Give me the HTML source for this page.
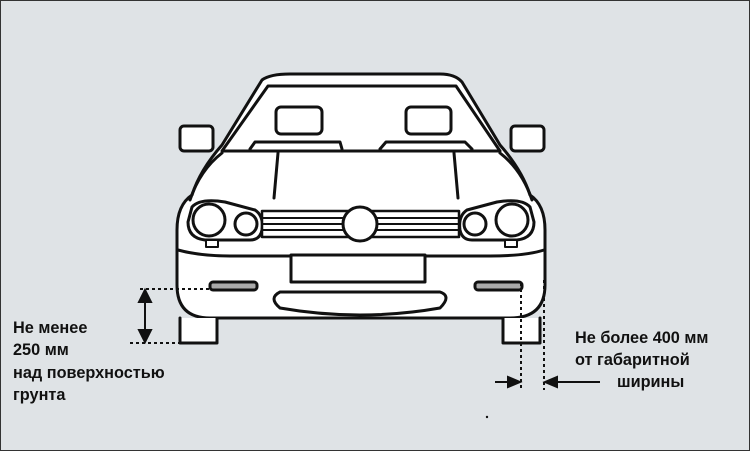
<!DOCTYPE html>
<html><head><meta charset="utf-8"><style>
html,body{margin:0;padding:0;background:#dfe3e6}
svg{display:block}
text{font-family:"Liberation Sans","DejaVu Sans",sans-serif;font-weight:bold;font-size:16.3px;fill:#111}
</style></head><body>
<svg width="750" height="451" viewBox="0 0 750 451" xmlns="http://www.w3.org/2000/svg">
<rect x="0.5" y="0.5" width="749" height="450" fill="#dfe3e6" stroke="#333" stroke-width="1"/>
<g fill="#fff" stroke="#111" stroke-width="3" stroke-linejoin="round" stroke-linecap="round">
<rect x="180" y="126" width="33" height="25" rx="4"/>
<rect x="511" y="126" width="33" height="25" rx="4"/>
<path d="M262 80 Q270 74 290 74 L440 74 Q455 74 462 82 L500 145 Q522 170 530 195 Q545 205 545 230 L545 285 Q545 318 510 318 L210 318 Q177 318 177 285 L177 230 Q177 205 192 195 Q200 170 222 145 Z"/>
<path d="M180 318 L180 343 L217 343 L217 318"/>
<path d="M503 318 L503 343 L540 343 L540 318"/>
<path d="M268 86 L456 86 L500 151 L222 151 Z" />
</g>
<g fill="none" stroke="#111" stroke-width="3" stroke-linecap="round" stroke-linejoin="round">
<rect x="276" y="107" width="46" height="27" rx="5" fill="#fff"/>
<rect x="406" y="107" width="45" height="27" rx="5" fill="#fff"/>
<path d="M250 149 L255 142 L340 142 L342 149"/>
<path d="M380 149 L386 142 L465 142 L472 149"/>
<path d="M278 153 Q276 175 274 198"/>
<path d="M454 153 Q456 175 458 198"/>
<path d="M222 153 Q200 170 190 200"/>
<path d="M500 153 Q522 170 532 200"/>
<path d="M192 207 Q200 198 225 202 L255 210 Q264 216 262 230 Q260 240 250 240 L205 240 Q188 238 188 222 Z" fill="#fff"/>
<path d="M530 207 Q522 198 497 202 L467 210 Q458 216 460 230 Q462 240 472 240 L517 240 Q534 238 534 222 Z" fill="#fff"/>
<circle cx="209" cy="220" r="16" fill="#fff"/>
<circle cx="246" cy="224" r="11" fill="#fff"/>
<circle cx="512" cy="220" r="16" fill="#fff"/>
<circle cx="475" cy="224" r="11" fill="#fff"/>
<rect x="206" y="240" width="12" height="7" fill="#fff" stroke-width="2"/>
<rect x="505" y="240" width="12" height="7" fill="#fff" stroke-width="2"/>
<rect x="262" y="211" width="197" height="26" fill="#fff" stroke-width="2.5"/>
<path d="M262 218 H459 M262 224 H459 M262 230 H459" stroke-width="2"/>
<circle cx="360" cy="224" r="17" fill="#fff"/>
<path d="M178 250 Q200 256 230 256 L490 256 Q525 256 544 250"/>
<rect x="291" y="255" width="134" height="27" fill="#fff"/>
<rect x="210" y="282" width="47" height="8" rx="3" fill="#aaa"/>
<rect x="475" y="282" width="47" height="8" rx="3" fill="#aaa"/>
<path d="M280 292 L440 292 Q452 296 440 308 Q400 315 360 315 Q320 315 280 308 Q268 298 280 292 Z" fill="#fff"/>
</g>
<g stroke="#111" stroke-width="2" fill="none" stroke-dasharray="3,3">
<path d="M140 289 H210"/>
<path d="M130 343 H180"/>
<path d="M521 283 V390"/>
<path d="M544 280 V390"/>
</g>
<g stroke="#111" stroke-width="2" fill="#111">
<path d="M145 300 V332"/>
<path d="M145 290 L139 302 L151 302 Z"/>
<path d="M145 342 L139 330 L151 330 Z"/>
<path d="M495 382 H510"/>
<path d="M520 382 L508 377 L508 387 Z"/>
<path d="M556 382 H600"/>
<path d="M545 382 L557 377 L557 387 Z"/>
</g>
<circle cx="487" cy="417" r="1.2" fill="#111"/>
<text x="13" y="333">Не менее</text>
<text x="13" y="355">250 мм</text>
<text x="13" y="378">над поверхностью</text>
<text x="13" y="400">грунта</text>
<text x="575" y="343">Не более 400 мм</text>
<text x="575" y="365">от габаритной</text>
<text x="617" y="387">ширины</text>
</svg>
</body></html>
